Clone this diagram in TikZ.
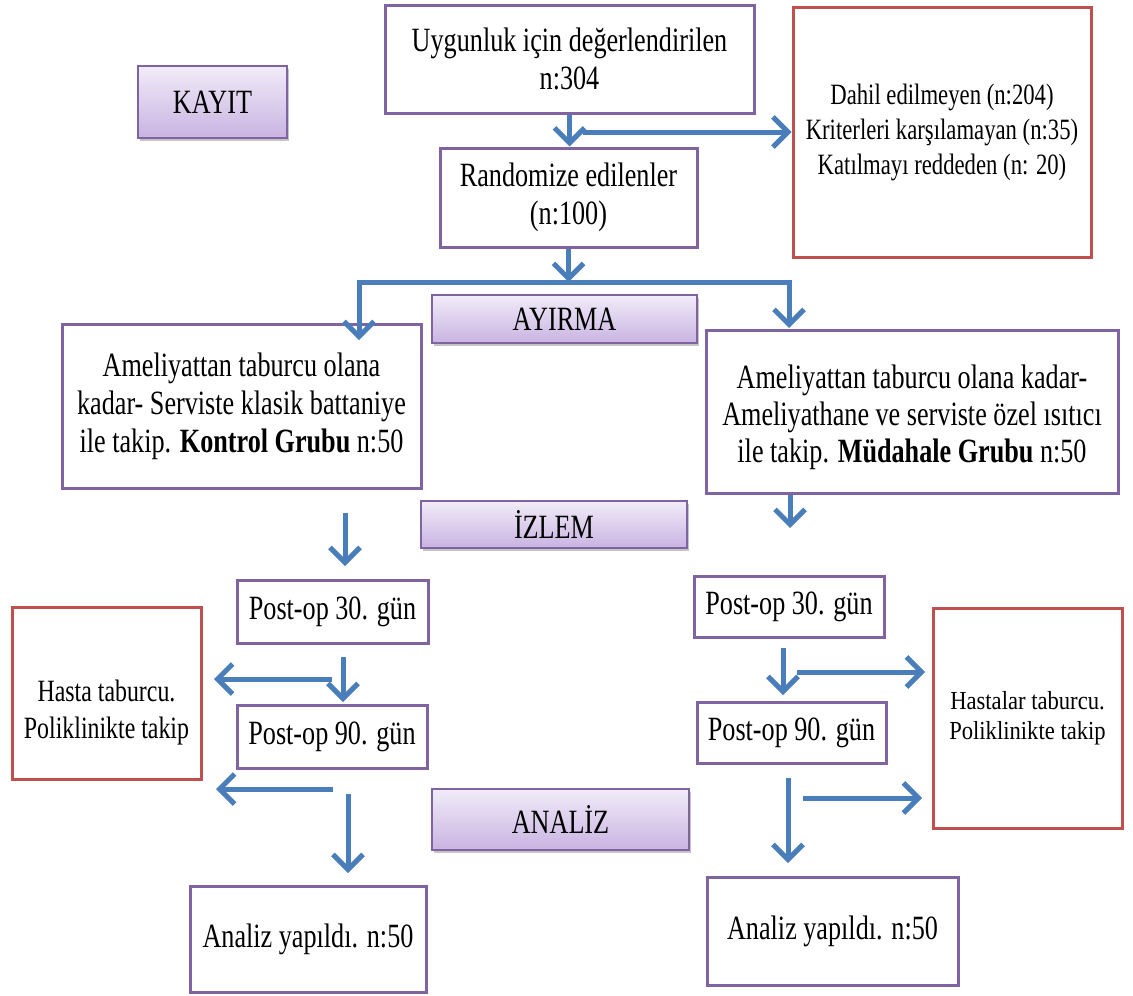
\documentclass[tikz,border=0pt]{standalone}
\usepackage{fontspec}
\setmainfont{Liberation Serif}[FakeStretch=0.77]
\newfontfamily\widefont{Liberation Serif}[FakeStretch=0.87]
\usetikzlibrary{arrows.meta,shadows}
\definecolor{boxpurple}{HTML}{8064A2}
\definecolor{boxred}{HTML}{C0504D}
\definecolor{arrowblue}{HTML}{4A7EBB}
\definecolor{labtop}{HTML}{F1ECF8}
\definecolor{labbot}{HTML}{C9B3E2}
\tikzset{
  pbox/.style={draw=boxpurple, line width=3pt, fill=white, align=center, inner sep=0pt,
    font=\fontsize{34}{38}\selectfont},
  rbox/.style={draw=boxred, line width=3pt, fill=white, align=center, inner sep=0pt},
  labbox/.style={draw=boxpurple, line width=1.5pt, top color=labtop, bottom color=labbot,
    drop shadow={shadow xshift=2pt, shadow yshift=-3pt, fill=black!45, opacity=0.5},
    font=\fontsize{34}{38}\selectfont, inner sep=0pt},
  arr/.style={draw=arrowblue, line width=5pt, -{Straight Barb[length=15pt,width=30pt]}},
  barbs/.style={draw=arrowblue, line width=5pt,
    {Straight Barb[length=15pt,width=30pt]}-{Straight Barb[length=15pt,width=30pt]}},
}
\begin{document}
\begin{tikzpicture}[x=1pt,y=-1pt]
\useasboundingbox (0,0) rectangle (1133,996);
\fill[white] (0,0) rectangle (1133,996);

% boxes
\node[pbox, minimum width=369pt, minimum height=108pt] (top) at (569.5,59)
  {Uygunluk için değerlendirilen\\n:304};
\node[pbox, minimum width=257pt, minimum height=99pt] (rand) at (568.5,197.5)
  {Randomize edilenler\\(n:100)};
\node[rbox, minimum width=298pt, minimum height=250pt, font=\fontsize{29.5}{35}\selectfont] (excl) at (942,132)
  {Dahil edilmeyen (n:204)\\Kriterleri karşılamayan (n:35)\\Katılmayı reddeden (n: 20)};
\node[labbox, minimum width=149pt, minimum height=72pt] (kayit) at (212.5,102) {KAYIT};
\node[labbox, minimum width=265pt, minimum height=48pt] (ayirma) at (564.5,319) {AYIRMA};
\node[pbox, minimum width=359pt, minimum height=164pt] (grpL) at (241.5,406)
  {Ameliyattan taburcu olana\\kadar- Serviste klasik battaniye\\ile takip. \textbf{Kontrol Grubu} n:50};
\node[pbox, minimum width=412pt, minimum height=163pt,
  label={[name=grpRtxt, align=center, yshift=-6pt, font=\fontsize{34}{37}\selectfont]center:{Ameliyattan taburcu olana kadar-\\Ameliyathane ve serviste özel ısıtıcı\\ile takip. \textbf{Müdahale Grubu} n:50}}]
  (grpR) at (912,411.5) {};
\node[labbox, minimum width=266pt, minimum height=47pt] (izlem) at (554,524.5) {İZLEM};
\node[pbox, minimum width=191pt, minimum height=63pt] (l30) at (332.5,611.5) {Post-op 30. gün};
\node[pbox, minimum width=190pt, minimum height=61pt] (r30) at (789,606.5) {Post-op 30. gün};
\node[pbox, minimum width=190pt, minimum height=63pt] (l90) at (332,736.5) {Post-op 90. gün};
\node[pbox, minimum width=189pt, minimum height=61pt] (r90) at (791.5,732.5) {Post-op 90. gün};
\node[rbox, minimum width=189pt, minimum height=172pt,
  label={[name=ltxt, align=center, yshift=-20pt, font=\fontsize{31}{37}\selectfont]center:{Hasta taburcu.\\Poliklinikte takip}}]
  (lred) at (106.5,693) {};
\node[rbox, minimum width=189pt, minimum height=220pt, font=\widefont\fontsize{26}{30}\selectfont]
  (rred) at (1027.5,718) {Hastalar taburcu.\\Poliklinikte takip};
\node[labbox, minimum width=257pt, minimum height=61pt] (analiz) at (560.5,819.5) {ANALİZ};
\node[pbox, minimum width=236pt, minimum height=106pt] (lan) at (308,939) {Analiz yapıldı. n:50};
\node[pbox, minimum width=251pt, minimum height=108pt] (ran) at (832.5,931) {Analiz yapıldı. n:50};

% connectors
\draw[arr] (top.south) -- (top.south |- rand.north);
\coordinate (h1) at (583,132);
\draw[arr] (h1) -- (h1 -| excl.west);
\coordinate (sp) at (569,282);
\draw[arr] (rand.south) -- (rand.south |- sp);
\coordinate (la) at (359,340);
\coordinate (ra) at (789,328);
\draw[barbs] (la) -- (la |- sp) -- (ra |- sp) -- (ra);

\coordinate (a1s) at (345,513); \coordinate (a1e) at (345,566);
\draw[arr] (a1s) -- (a1e);
\coordinate (a2e) at (790,528);
\draw[arr] (grpR.south -| a2e) -- (a2e);

\coordinate (a3s) at (343,657); \coordinate (a3e) at (343,702);
\draw[arr] (a3s) -- (a3e);
\coordinate (a4s) at (332,679); \coordinate (a4e) at (214,679);
\draw[arr] (a4s) -- (a4e);
\coordinate (a5s) at (333,789); \coordinate (a5e) at (216,789);
\draw[arr] (a5s) -- (a5e);
\coordinate (a6s) at (348,794); \coordinate (a6e) at (348,873);
\draw[arr] (a6s) -- (a6e);

\coordinate (b1s) at (783,648); \coordinate (b1e) at (783,695);
\draw[arr] (b1s) -- (b1e);
\coordinate (b2s) at (797,672); \coordinate (b2e) at (925,672);
\draw[arr] (b2s) -- (b2e);
\coordinate (b3s) at (788,778); \coordinate (b3e) at (788,863);
\draw[arr] (b3s) -- (b3e);
\coordinate (b4s) at (803,798); \coordinate (b4e) at (922,798);
\draw[arr] (b4s) -- (b4e);
\end{tikzpicture}
\end{document}
